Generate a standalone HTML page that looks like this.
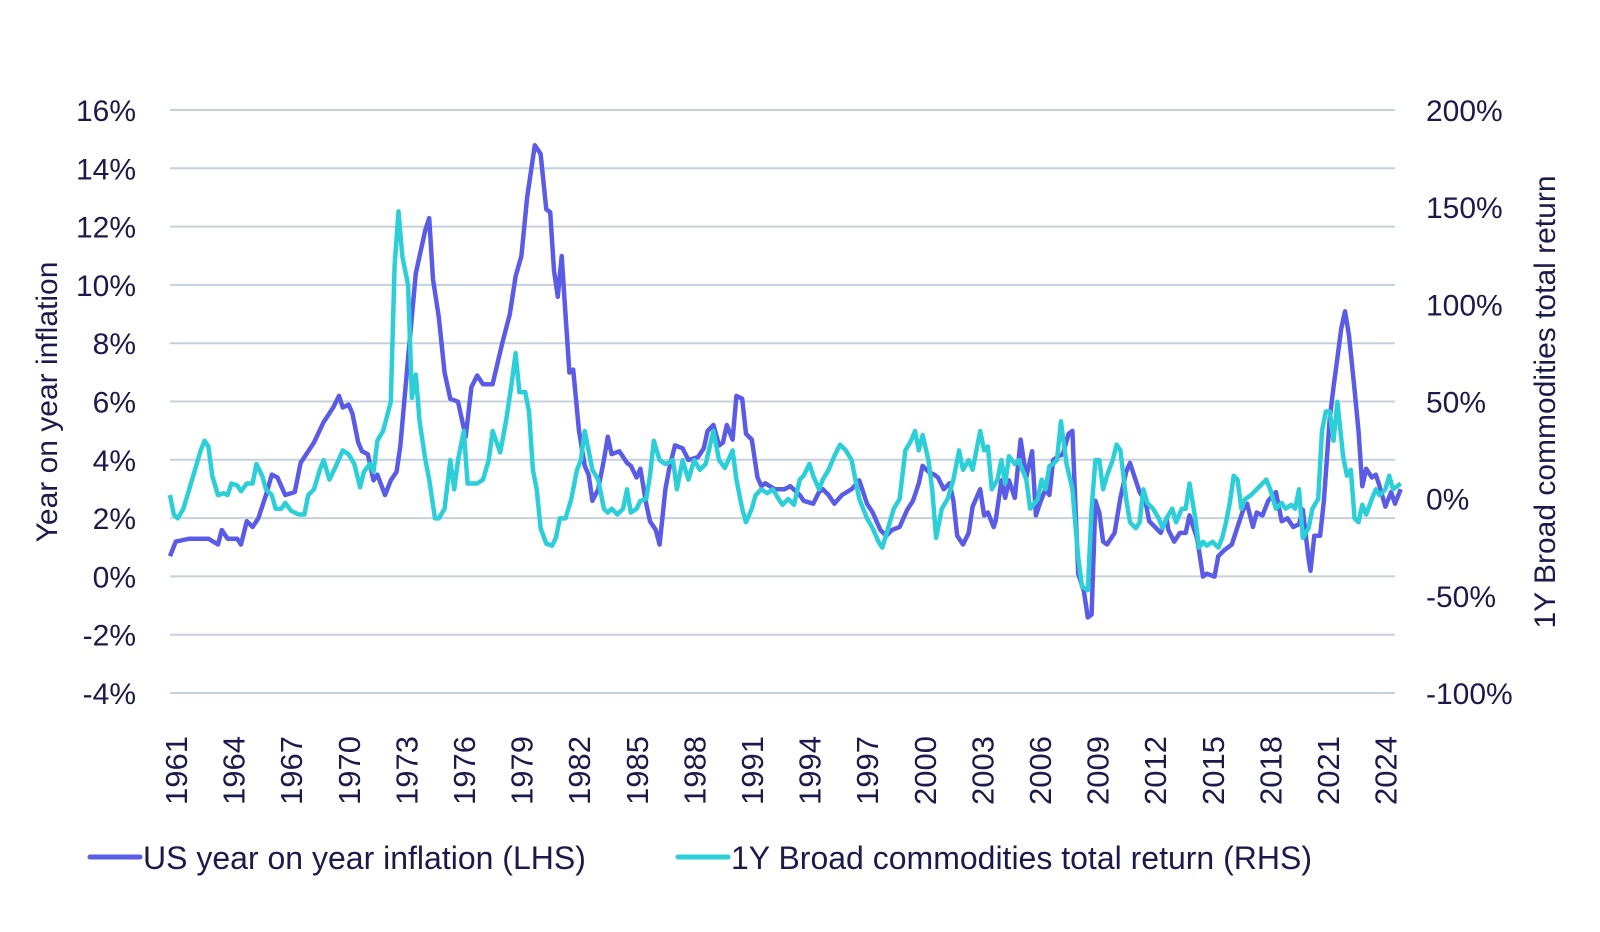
<!DOCTYPE html>
<html><head><meta charset="utf-8"><style>
body{margin:0;background:#fff;}
svg text{font-family:"Liberation Sans",sans-serif;fill:#1b1b4b;}
</style></head><body>
<svg id="s" width="1600" height="927" xmlns="http://www.w3.org/2000/svg">
<g id="grid" stroke="#c5d0da" stroke-width="2"></g>
<g id="lt" font-size="30" text-anchor="end"></g>
<g id="rt" font-size="30" text-anchor="start"></g>
<g id="xt" font-size="31"></g>
<polyline id="inf" fill="none" stroke="#5a5ce6" stroke-width="4.5" stroke-linejoin="round"/>
<polyline id="com" fill="none" stroke="#2ccfd8" stroke-width="4.5" stroke-linejoin="round"/>
<text transform="translate(57,402) rotate(-90)" font-size="30" text-anchor="middle">Year on year inflation</text>
<text transform="translate(1555,402) rotate(-90)" font-size="30" text-anchor="middle">1Y Broad commodities total return</text>
<line x1="90" y1="857" x2="140" y2="857" stroke="#5a5ce6" stroke-width="5" stroke-linecap="round"/>
<text x="143" y="869" font-size="32">US year on year inflation (LHS)</text>
<line x1="678" y1="857" x2="728" y2="857" stroke="#2ccfd8" stroke-width="5" stroke-linecap="round"/>
<text x="731" y="869" font-size="32">1Y Broad commodities total return (RHS)</text>
</svg>
<script>
var NS="http://www.w3.org/2000/svg";
function el(p,t,a,txt){var e=document.createElementNS(NS,t);for(var k in a)e.setAttribute(k,a[k]);if(txt)e.textContent=txt;document.getElementById(p).appendChild(e);}
for(var i=0;i<=10;i++){var y=110+i*58.3;el("grid","line",{x1:170,x2:1395,y1:y,y2:y});
el("lt","text",{x:136,y:y+11},(16-2*i)+"%");}
for(var i=0;i<=6;i++){var y=110+i*97.17;el("rt","text",{x:1426,y:y+11},(200-50*i)+"%");}
function X(yr){return 170+(yr-1961)*19.2;}
for(var yr=1961;yr<=2024;yr+=3){var x=X(yr)+6+11;el("xt","text",{transform:"translate("+x+",805) rotate(-90)"},""+yr);}
var inf=[1961,0.7,1961.3,1.2,1962,1.3,1963,1.3,1963.5,1.1,1963.7,1.6,1964,1.3,1964.5,1.3,1964.7,1.1,1965,1.9,1965.3,1.7,1965.6,2.0,1966,2.8,1966.3,3.5,1966.6,3.4,1967,2.8,1967.5,2.9,1967.8,3.9,1968.5,4.6,1969,5.3,1969.5,5.8,1969.8,6.2,1970,5.8,1970.3,5.9,1970.5,5.6,1970.8,4.6,1971,4.3,1971.3,4.2,1971.6,3.3,1971.8,3.5,1972.2,2.8,1972.5,3.3,1972.8,3.6,1973,4.5,1973.4,7.5,1973.8,10.4,1974,11.0,1974.3,11.9,1974.5,12.3,1974.7,10.2,1975,8.9,1975.3,7.0,1975.6,6.1,1976,6.0,1976.4,4.8,1976.7,6.5,1977,6.9,1977.3,6.6,1977.8,6.6,1978.3,8.0,1978.7,9.0,1979,10.3,1979.3,11.0,1979.6,13.0,1980,14.8,1980.3,14.5,1980.6,12.6,1980.8,12.5,1981,10.5,1981.2,9.6,1981.4,11.0,1981.6,9.0,1981.8,7.0,1982,7.1,1982.3,5.0,1982.6,3.8,1982.8,3.5,1983,2.6,1983.3,3.0,1983.6,4.0,1983.8,4.8,1984,4.2,1984.4,4.3,1984.8,3.9,1985,3.8,1985.3,3.4,1985.5,3.7,1985.8,2.5,1986,1.9,1986.3,1.6,1986.5,1.1,1986.8,3.0,1987,3.7,1987.3,4.5,1987.7,4.4,1988,4.0,1988.5,4.1,1988.8,4.4,1989,5.0,1989.3,5.2,1989.6,4.5,1989.8,4.6,1990,5.2,1990.3,4.7,1990.5,6.2,1990.8,6.1,1991,4.9,1991.3,4.7,1991.6,3.4,1991.8,3.1,1992,3.2,1992.5,3.0,1993,3.0,1993.3,3.1,1993.8,2.8,1994,2.6,1994.5,2.5,1994.8,2.9,1995,3.0,1995.3,2.8,1995.6,2.5,1996,2.8,1996.5,3.0,1996.9,3.3,1997.3,2.5,1997.6,2.2,1998,1.6,1998.3,1.4,1998.6,1.6,1999,1.7,1999.4,2.3,1999.7,2.6,2000,3.2,2000.2,3.8,2000.5,3.6,2000.8,3.5,2001,3.4,2001.3,3.0,2001.6,3.2,2001.8,2.6,2002,1.4,2002.3,1.1,2002.6,1.5,2002.8,2.4,2003.2,3.0,2003.4,2.1,2003.6,2.2,2003.9,1.7,2004,1.9,2004.3,3.3,2004.5,2.7,2004.7,3.3,2005,2.7,2005.3,4.7,2005.6,3.4,2005.9,4.3,2006.1,2.1,2006.3,2.5,2006.6,3.0,2006.8,2.8,2007,4.0,2007.2,4.1,2007.5,4.2,2007.8,4.9,2008,5.0,2008.3,0.1,2008.6,-0.5,2008.8,-1.4,2009,-1.3,2009.2,2.6,2009.4,2.2,2009.6,1.2,2009.8,1.1,2010.2,1.5,2010.5,2.7,2010.8,3.6,2011,3.9,2011.2,3.5,2011.5,2.9,2011.8,2.6,2012,1.9,2012.3,1.7,2012.6,1.5,2012.9,2.0,2013,1.6,2013.3,1.2,2013.6,1.5,2013.9,1.5,2014.1,2.1,2014.5,1.3,2014.8,0.0,2015,0.1,2015.4,0,2015.6,0.7,2015.9,0.9,2016.3,1.1,2016.6,1.7,2016.9,2.3,2017.1,2.5,2017.4,1.7,2017.6,2.2,2017.9,2.1,2018.2,2.6,2018.6,2.9,2018.9,1.9,2019.2,2.0,2019.5,1.7,2019.8,1.8,2020,2.3,2020.3,0.6,2020.4,0.2,2020.6,1.4,2020.9,1.4,2021.1,2.6,2021.4,5.4,2021.6,6.5,2021.8,7.5,2022,8.5,2022.2,9.1,2022.4,8.3,2022.7,6.4,2022.9,5.0,2023.1,3.1,2023.3,3.7,2023.6,3.4,2023.8,3.5,2024,3.1,2024.3,2.4,2024.6,2.9,2024.8,2.5,2025.1,3.0];
var com=[1961,2,1961.2,-8,1961.4,-10,1961.7,-5,1962,5,1962.3,15,1962.6,25,1962.8,30,1963,27,1963.2,12,1963.5,2,1963.8,3,1964,2,1964.2,8,1964.5,7,1964.7,4,1965,8,1965.3,8,1965.5,18,1965.8,12,1966,5,1966.3,2,1966.5,-5,1966.8,-5,1967,-2,1967.3,-6,1967.7,-8,1968,-8,1968.2,2,1968.5,5,1968.8,15,1969,20,1969.3,10,1969.6,16,1970,25,1970.3,23,1970.6,18,1970.9,6,1971.1,14,1971.4,18,1971.6,14,1971.8,30,1972.1,35,1972.5,50,1972.7,120,1972.9,148,1973.1,125,1973.4,110,1973.6,52,1973.8,64,1974,40,1974.3,20,1974.5,10,1974.8,-10,1975,-10,1975.3,-5,1975.6,20,1975.8,5,1976,20,1976.3,35,1976.5,8,1976.8,8,1977,8,1977.3,10,1977.6,20,1977.8,35,1978.2,24,1978.5,40,1978.8,60,1979,75,1979.2,55,1979.5,55,1979.7,45,1979.9,15,1980.1,5,1980.3,-15,1980.6,-23,1980.9,-24,1981.1,-20,1981.3,-10,1981.6,-10,1981.9,0,1982.2,15,1982.4,20,1982.6,35,1982.8,25,1983,15,1983.3,10,1983.6,-5,1983.8,-7,1984,-5,1984.3,-8,1984.6,-5,1984.8,5,1985,-7,1985.3,-5,1985.5,-1,1985.8,0,1986,12,1986.2,30,1986.5,20,1986.8,18,1987.2,20,1987.4,5,1987.7,20,1988,10,1988.3,20,1988.6,15,1988.9,18,1989.3,35,1989.6,20,1989.9,16,1990.3,25,1990.5,10,1990.8,-5,1991,-12,1991.3,-5,1991.5,2,1991.8,5,1992.1,3,1992.4,5,1992.7,0,1992.9,-3,1993.2,0,1993.5,-3,1993.8,10,1994,12,1994.3,18,1994.5,12,1994.8,5,1995,10,1995.3,15,1995.6,22,1995.9,28,1996.2,25,1996.5,20,1996.7,10,1996.9,0,1997.3,-10,1997.6,-15,1997.9,-22,1998.1,-25,1998.4,-15,1998.7,-5,1999,0,1999.3,25,1999.6,30,1999.8,35,2000,25,2000.2,33,2000.5,20,2000.7,5,2000.9,-20,2001.2,-5,2001.5,0,2001.8,10,2002.1,25,2002.3,15,2002.6,20,2002.8,15,2003.2,35,2003.4,25,2003.6,27,2003.8,5,2004.1,10,2004.3,20,2004.5,8,2004.7,22,2005,18,2005.2,20,2005.6,10,2005.8,-5,2006.2,0,2006.4,10,2006.6,5,2006.8,17,2007,18,2007.2,20,2007.4,40,2007.7,18,2008,5,2008.3,-30,2008.5,-45,2008.8,-47,2009,-5,2009.2,20,2009.4,20,2009.6,5,2009.8,12,2010.1,20,2010.3,28,2010.5,25,2010.8,0,2011,-12,2011.3,-15,2011.5,-12,2011.7,5,2011.9,-2,2012.2,-5,2012.5,-10,2012.7,-15,2012.9,-10,2013.2,-5,2013.4,-12,2013.7,-5,2013.9,-5,2014.1,8,2014.4,-10,2014.6,-25,2014.8,-22,2015,-24,2015.3,-22,2015.6,-25,2015.8,-20,2016,-12,2016.2,-2,2016.4,12,2016.6,10,2016.8,-5,2017,0,2017.3,2,2017.6,5,2017.9,8,2018.1,10,2018.3,5,2018.6,-5,2018.9,-2,2019.1,-5,2019.4,-3,2019.6,-5,2019.8,5,2020,-20,2020.3,-15,2020.5,-5,2020.8,0,2021,35,2021.2,45,2021.4,45,2021.6,30,2021.8,50,2022.1,22,2022.3,12,2022.5,15,2022.7,-10,2022.9,-12,2023.1,-3,2023.3,-8,2023.6,0,2023.8,5,2024,2,2024.3,5,2024.5,12,2024.7,5,2025.1,8];
function pts(a,f){var s=[];for(var i=0;i<a.length;i+=2)s.push(X(a[i]).toFixed(1)+","+f(a[i+1]).toFixed(1));return s.join(" ");}
document.getElementById("inf").setAttribute("points",pts(inf,function(v){return 576.6-v*29.15;}));
document.getElementById("com").setAttribute("points",pts(com,function(v){return 499-v*1.9434;}));
</script>
</body></html>
